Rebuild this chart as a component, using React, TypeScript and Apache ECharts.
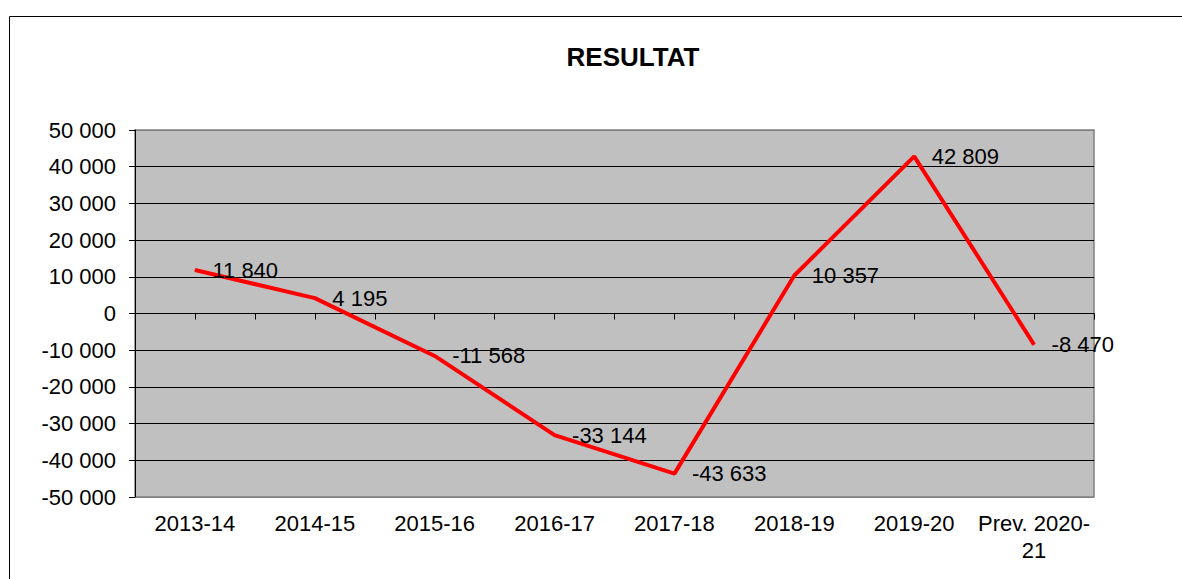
import React, { useEffect, useRef } from "react";
import * as echarts from "echarts";

const categories = ["2013-14", "2014-15", "2015-16", "2016-17", "2017-18", "2018-19", "2019-20", "Prev. 2020-\n21"];
const values = [11840, 4195, -11568, -33144, -43633, 10357, 42809, -8470];
const title = "RESULTAT";
const yMin = -50000;
const yMax = 50000;
const yStep = 10000;

const FONT = "'Liberation Sans', Arial, sans-serif";

function fmt(v: number): string {
  const s = Math.abs(Math.round(v)).toString().replace(/\B(?=(\d{3})+(?!\d))/g, " ");
  return (v < 0 ? "-" : "") + s;
}

export default function App() {
  const ref = useRef<HTMLDivElement>(null);
  useEffect(() => {
    document.body.style.margin = "0";
    if (!ref.current) return;
    const chart = echarts.init(ref.current, undefined, { renderer: "svg" });
    const tickCats: string[] = [];
    for (let i = 0; i < categories.length * 2; i++) tickCats.push("");
    const splitColors: string[] = [];
    const nLines = Math.round((yMax - yMin) / yStep) + 1;
    for (let i = 0; i < nLines; i++) splitColors.push(i === 0 || i === nLines - 1 ? "#808080" : "#000000");
    chart.setOption({
      animation: false,
      textStyle: { fontFamily: FONT },
      graphic: [
        {
          type: "rect",
          shape: { x: 9.5, y: 16.5, width: 1300, height: 700 },
          style: { fill: "none", stroke: "#000", lineWidth: 1 },
          silent: true,
        },
        {
          type: "text",
          x: 633,
          y: 57,
          style: {
            text: title,
            fontSize: 26,
            fontWeight: "bold",
            fontFamily: FONT,
            fill: "#000",
            textAlign: "center",
            textVerticalAlign: "middle",
          },
        },
      ],
      grid: {
        left: 135,
        top: 130,
        width: 959,
        height: 367,
        show: true,
        backgroundColor: "#c0c0c0",
        borderColor: "#808080",
        borderWidth: 1.5,
      },
      xAxis: [
        {
          type: "category",
          data: categories,
          boundaryGap: true,
          position: "bottom",
          axisLine: { show: false, onZero: false },
          axisTick: { show: false },
          axisLabel: { fontSize: 22, color: "#000", margin: 13, lineHeight: 27, fontFamily: FONT, interval: 0 },
          splitLine: { show: false },
        },
        {
          type: "category",
          data: tickCats,
          boundaryGap: true,
          position: "bottom",
          axisLine: { show: true, onZero: true, lineStyle: { color: "#000", width: 1 } },
          axisTick: { show: true, length: 6, interval: 0, lineStyle: { color: "#000", width: 1 } },
          axisLabel: { show: false },
          splitLine: { show: false },
        },
      ],
      yAxis: {
        type: "value",
        min: yMin,
        max: yMax,
        interval: yStep,
        axisLine: { show: true, lineStyle: { color: "#000", width: 1 } },
        axisTick: { show: true, length: 6, lineStyle: { color: "#000" } },
        axisLabel: { fontSize: 22, color: "#000", margin: 19, fontFamily: FONT, formatter: (v: number) => fmt(v) },
        splitLine: { show: true, lineStyle: { color: splitColors, width: 1 } },
      },
      series: [
        {
          type: "line",
          xAxisIndex: 0,
          data: values,
          symbol: "circle",
          symbolSize: 1,
          showSymbol: true,
          itemStyle: { color: "#ff0000" },
          lineStyle: { color: "#ff0000", width: 4 },
          label: {
            show: true,
            position: "right",
            distance: 17,
            fontSize: 22,
            color: "#000",
            fontFamily: FONT,
            formatter: (p: any) => fmt(p.value),
          },
        },
      ],
    });
    return () => chart.dispose();
  }, []);
  return <div ref={ref} style={{ width: 1182, height: 579 }} />;
}
